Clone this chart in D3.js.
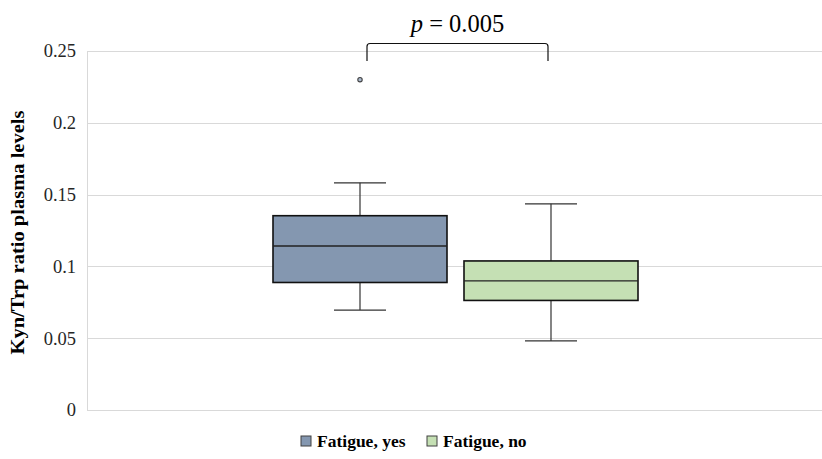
<!DOCTYPE html>
<html>
<head>
<meta charset="utf-8">
<script src="https://cdn.jsdelivr.net/npm/d3@7"></script>
<style>
  body { margin: 0; background: #fff; }
  svg { display: block; }
</style>
</head>
<body>
<svg width="822" height="459"></svg>
<script>
// данные
const groups = ["Fatigue, yes", "Fatigue, no"];
const whiskerLow = [0.0696, 0.0481];
const q1 = [0.0888, 0.0763];
const median = [0.1142, 0.0899];
const q3 = [0.1353, 0.1038];
const whiskerHigh = [0.1582, 0.1436];
const outliers = [[0.230], []];
const yTicks = [0, 0.05, 0.1, 0.15, 0.2, 0.25];
const fills = ["#8497B0", "#C5E0B4"];
const pText = "0.005";

const svg = d3.select("svg");
const margin = {left: 87, right: 0, top: 51, bottom: 49};
const width = +svg.attr("width");
const height = +svg.attr("height");
const font = "'Liberation Serif', 'Times New Roman', serif";

const y = d3.scaleLinear()
    .domain([0, 0.25])
    .range([height - margin.bottom, margin.top]);

// центры двух коробок
const xInner = d3.scalePoint().domain(groups).range([360, 551]);
const boxW = 174, capW = 52;

// сетка
svg.append("g")
    .selectAll("line")
    .data(yTicks)
    .join("line")
    .attr("x1", margin.left)
    .attr("x2", width - margin.right)
    .attr("y1", d => Math.round(y(d)) + 0.5)
    .attr("y2", d => Math.round(y(d)) + 0.5)
    .attr("stroke", "#d9d9d9")
    .attr("stroke-width", 1);

svg.append("line")
    .attr("x1", margin.left + 0.5).attr("x2", margin.left + 0.5)
    .attr("y1", Math.round(y(0.25)) + 0.5).attr("y2", Math.round(y(0)) + 0.5)
    .attr("stroke", "#d9d9d9");

// ось Y
const yAxis = d3.axisLeft(y).tickValues(yTicks).tickSize(0).tickPadding(11)
    .tickFormat(d => d === 0 ? "0" : String(+d.toFixed(2)));
const gy = svg.append("g")
    .attr("transform", `translate(${margin.left},0)`)
    .call(yAxis);
gy.select(".domain").remove();
gy.selectAll("text")
    .attr("font-family", font)
    .attr("font-size", 18.5)
    .attr("fill", "#262626");

svg.append("text")
    .attr("transform", `translate(24,${(y(0) + y(0.25)) / 2 + 2}) rotate(-90)`)
    .attr("text-anchor", "middle")
    .attr("font-family", font)
    .attr("font-weight", "bold")
    .attr("font-size", 18.5)
    .attr("textLength", 244)
    .attr("lengthAdjust", "spacingAndGlyphs")
    .attr("fill", "#000")
    .text("Kyn/Trp ratio plasma levels");

// коробки
const boxes = svg.append("g")
    .selectAll("g")
    .data(groups)
    .join("g");

boxes.append("line")
    .attr("x1", d => xInner(d)).attr("x2", d => xInner(d))
    .attr("y1", (d, i) => y(whiskerHigh[i])).attr("y2", (d, i) => y(q3[i]))
    .attr("stroke", "#333").attr("stroke-width", 1.2);
boxes.append("line")
    .attr("x1", d => xInner(d)).attr("x2", d => xInner(d))
    .attr("y1", (d, i) => y(q1[i])).attr("y2", (d, i) => y(whiskerLow[i]))
    .attr("stroke", "#333").attr("stroke-width", 1.2);
[whiskerHigh, whiskerLow].forEach(arr => {
    boxes.append("line")
        .attr("x1", d => xInner(d) - capW / 2).attr("x2", d => xInner(d) + capW / 2)
        .attr("y1", (d, i) => y(arr[i])).attr("y2", (d, i) => y(arr[i]))
        .attr("stroke", "#333").attr("stroke-width", 1.2);
});

boxes.append("rect")
    .attr("x", d => xInner(d) - boxW / 2)
    .attr("width", boxW)
    .attr("y", (d, i) => y(q3[i]))
    .attr("height", (d, i) => y(q1[i]) - y(q3[i]))
    .attr("fill", (d, i) => fills[i])
    .attr("stroke", "#111")
    .attr("stroke-width", 1.6);

boxes.append("line")
    .attr("x1", d => xInner(d) - boxW / 2).attr("x2", d => xInner(d) + boxW / 2)
    .attr("y1", (d, i) => y(median[i])).attr("y2", (d, i) => y(median[i]))
    .attr("stroke", "#222").attr("stroke-width", 1.3);

boxes.each(function(d, i) {
    d3.select(this).selectAll("circle")
        .data(outliers[i])
        .join("circle")
        .attr("cx", xInner(d))
        .attr("cy", v => y(v))
        .attr("r", 2.2)
        .attr("fill", "#aab8cc")
        .attr("stroke", "#404040")
        .attr("stroke-width", 1.1);
});

// скобка значимости
const bx1 = xInner(groups[0]) + 7, bx2 = xInner(groups[1]) - 3;
const byTop = 43.5, byBot = 61;
svg.append("path")
    .attr("d", `M${bx1},${byBot} L${bx1},${byTop + 3} Q${bx1},${byTop} ${bx1 + 3},${byTop} L${bx2 - 3},${byTop} Q${bx2},${byTop} ${bx2},${byTop + 3} L${bx2},${byBot}`)
    .attr("fill", "none")
    .attr("stroke", "#111")
    .attr("stroke-width", 1.2);

const pLabel = svg.append("text")
    .attr("x", (bx1 + bx2) / 2)
    .attr("y", 32)
    .attr("text-anchor", "middle")
    .attr("font-family", font)
    .attr("font-size", 24.5)
    .attr("fill", "#000");
pLabel.append("tspan").attr("font-style", "italic").text("p");
pLabel.append("tspan").text(" = " + pText);

// легенда
const legend = svg.append("g").attr("transform", "translate(301,436)");
const items = legend.selectAll("g")
    .data(groups)
    .join("g")
    .attr("transform", (d, i) => `translate(${i * 126},0)`);
items.append("rect")
    .attr("width", 10).attr("height", 10)
    .attr("fill", (d, i) => fills[i])
    .attr("stroke", "#404040")
    .attr("stroke-width", 1);
items.append("text")
    .attr("x", 16)
    .attr("y", 10.5)
    .attr("font-family", font)
    .attr("font-weight", "bold")
    .attr("font-size", 17.5)
    .attr("fill", "#000")
    .text(d => d);
</script>
</body>
</html>
